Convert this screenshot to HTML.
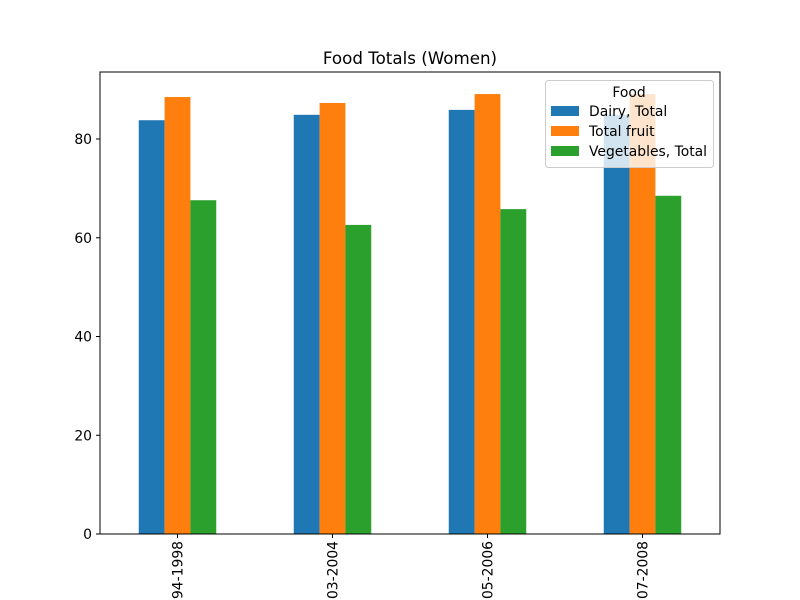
<!DOCTYPE html>
<html><head><meta charset="utf-8"><style>body{margin:0;background:#fff}svg{display:block;font-family:"DejaVu Sans","Liberation Sans",sans-serif}</style></head>
<body>
<svg id="chart" width="800" height="600">
<text x="410" y="64" text-anchor="middle" font-size="16.7">Food Totals (Women)</text>
<g id="bars"></g>
<rect x="100" y="72" width="620" height="462" fill="none" stroke="#000" stroke-width="1"/>
<g id="axes" font-size="13.9"></g>
<g>
<rect x="545.5" y="80.5" width="168" height="87" rx="3" fill="#fff" fill-opacity="0.8" stroke="#ccc"/>
<text x="629" y="97" text-anchor="middle" font-size="13.9">Food</text>
<g id="legend-items" font-size="13.9"></g>
</g>
</svg>
<script>
const categories=["1994-1998","2003-2004","2005-2006","2007-2008"];
const seriesNames=["Dairy, Total","Total fruit","Vegetables, Total"];
const dairy=[83.8,84.9,85.9,84.9];
const fruit=[88.5,87.3,89.1,89.1];
const veg=[67.6,62.6,65.8,68.5];
const yTicks=[0,20,40,60,80];
const colors=["#1f77b4","#ff7f0e","#2ca02c"];
const series=[dairy,fruit,veg];
const NS="http://www.w3.org/2000/svg";
const x0=100,x1=720,y0=534,pxPerUnit=395/80;
const unit=(x1-x0)/categories.length;
function xc(i){return x0+unit*(i+0.5);}
function y(v){return y0-v*pxPerUnit;}
function mk(tag,attrs,parent){const e=document.createElementNS(NS,tag);for(const k in attrs)e.setAttribute(k,attrs[k]);parent.appendChild(e);return e;}
const bars=document.getElementById('bars'),axes=document.getElementById('axes');
const bw=unit*0.5/3;
series.forEach((s,j)=>{s.forEach((v,i)=>{
 const r=mk('rect',{x:xc(i)-unit*0.25+j*bw,y:y(v),width:bw,height:y0-y(v),fill:colors[j]},bars);
 
 
});});
yTicks.forEach(t=>{
 const l=mk('line',{x1:x0-4,x2:x0,y1:y(t),y2:y(t),stroke:'#000'},axes);
 
 
 const tx=mk('text',{x:x0-8,y:y(t)+5,'text-anchor':'end'},axes);tx.textContent=t;
 
 
});
categories.forEach((c,i)=>{
 const l=mk('line',{x1:xc(i),x2:xc(i),y1:y0,y2:y0+4,stroke:'#000'},axes);
 
 
 const tx=mk('text',{x:0,y:0,'text-anchor':'end',transform:`translate(${xc(i)+5},${y0+7}) rotate(-90)`},axes);tx.textContent=c;
 
 
});
const li=document.getElementById('legend-items');
seriesNames.forEach((n,j)=>{
 const yy=111+j*20;
 const r=mk('rect',{x:551,y:yy-5,width:28,height:10,fill:colors[j]},li);
 
 
 const t=mk('text',{x:589,y:yy+5},li);t.textContent=n;
 
 
});
</script>
</body></html>
